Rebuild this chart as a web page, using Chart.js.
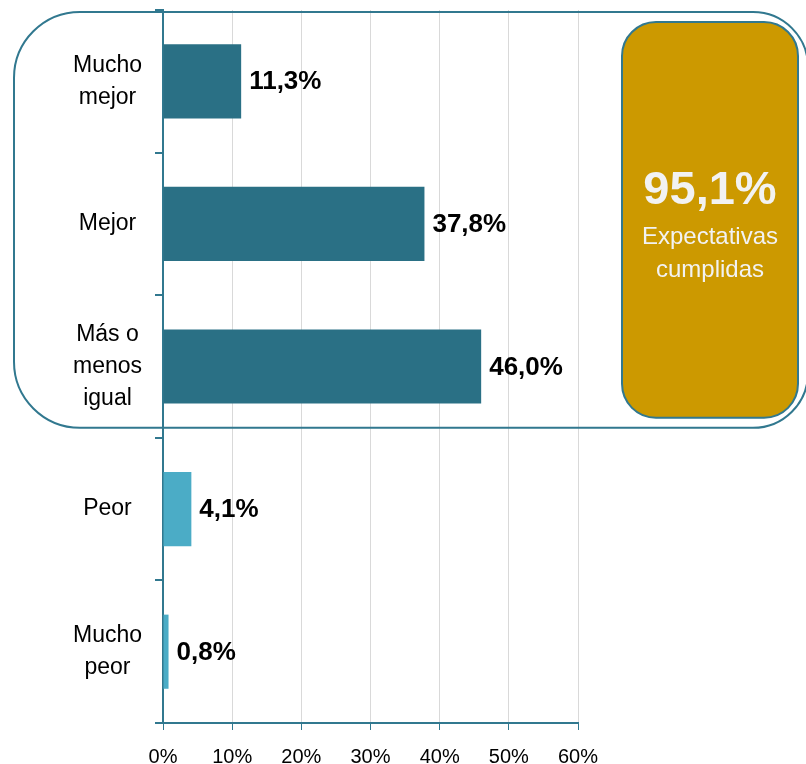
<!DOCTYPE html>
<html>
<head>
<meta charset="utf-8">
<script src="https://cdn.jsdelivr.net/npm/chart.js@4.4.1/dist/chart.umd.min.js"></script>
<style>
    html, body { margin: 0; padding: 0; background: #ffffff; }
    #wrap { width: 806px; height: 764px; position: relative; }
</style>
</head>
<body>
<div id="wrap"><canvas id="chart"></canvas></div>
<script>
// Data
const categories = [
    ['Mucho', 'mejor'],
    ['Mejor'],
    ['Más o', 'menos', 'igual'],
    ['Peor'],
    ['Mucho', 'peor']
];
const percentages = [11.3, 37.8, 46.0, 4.1, 0.8];
const xTickValues = [0, 10, 20, 30, 40, 50, 60];
const summaryValue = '95,1%';
const summaryText = ['Expectativas', 'cumplidas'];

// Styles
const TEAL = '#31788f';
const DARK_BAR = '#2a7085';
const LIGHT_BAR = '#4bacc6';
const GOLD = '#cc9900';
const FONT = '"Liberation Sans", Arial, sans-serif';
const barColors = [DARK_BAR, DARK_BAR, DARK_BAR, LIGHT_BAR, LIGHT_BAR];

function formatPct(v) {
    return v.toFixed(1).replace('.', ',') + '%';
}

function roundRectPath(ctx, x, y, w, h, r) {
    // r = [tl, tr, br, bl]
    ctx.beginPath();
    ctx.moveTo(x + r[0], y);
    ctx.lineTo(x + w - r[1], y);
    ctx.arcTo(x + w, y, x + w, y + r[1], r[1]);
    ctx.lineTo(x + w, y + h - r[2]);
    ctx.arcTo(x + w, y + h, x + w - r[2], y + h, r[2]);
    ctx.lineTo(x + r[3], y + h);
    ctx.arcTo(x, y + h, x, y + h - r[3], r[3]);
    ctx.lineTo(x, y + r[0]);
    ctx.arcTo(x, y, x + r[0], y, r[0]);
    ctx.closePath();
}

// Value labels next to each bar
const valueLabels = {
    id: 'valueLabels',
    afterDatasetsDraw(chart) {
        const ctx = chart.ctx;
        const meta = chart.getDatasetMeta(0);
        ctx.save();
        ctx.font = 'bold 26px ' + FONT;
        ctx.fillStyle = '#000000';
        ctx.textAlign = 'left';
        ctx.textBaseline = 'middle';
        meta.data.forEach((bar, i) => {
            ctx.fillText(formatPct(percentages[i]), bar.x + 8, bar.y + 1);
        });
        ctx.restore();
    }
};

// Rounded outline around the top three bars and the summary box
const highlightBox = {
    id: 'highlightBox',
    afterDraw(chart) {
        const ctx = chart.ctx;
        const area = chart.chartArea;
        const y = chart.scales.y;
        const split = (y.getPixelForValue(2) + y.getPixelForValue(3)) / 2;

        ctx.save();
        // outer outline
        ctx.strokeStyle = TEAL;
        ctx.lineWidth = 2;
        const ox = 14, oy = area.top + 2;
        roundRectPath(ctx, ox, oy, chart.width + 2 - ox, split - 10 - oy, [66, 55, 55, 66]);
        ctx.stroke();

        // gold summary box
        const gx = area.right + 44, gy = area.top + 12;
        const gw = chart.width - 8 - gx, gh = split - 20 - gy;
        roundRectPath(ctx, gx, gy, gw, gh, [34, 34, 34, 34]);
        ctx.fillStyle = GOLD;
        ctx.fill();
        ctx.stroke();

        const cx = gx + gw / 2;
        ctx.fillStyle = '#f2f2f2';
        ctx.textAlign = 'center';
        ctx.textBaseline = 'middle';
        ctx.font = 'bold 47px ' + FONT;
        ctx.fillText(summaryValue, cx, gy + 169);
        ctx.font = '24px ' + FONT;
        ctx.fillText(summaryText[0], cx, gy + 215);
        ctx.fillText(summaryText[1], cx, gy + 248);
        ctx.restore();
    }
};

const canvas = document.getElementById('chart');
canvas.width = 806;
canvas.height = 764;

new Chart(canvas, {
    type: 'bar',
    data: {
        labels: categories,
        datasets: [{
            data: percentages,
            backgroundColor: barColors,
            borderWidth: 0,
            categoryPercentage: 1,
            barPercentage: 0.52
        }]
    },
    options: {
        indexAxis: 'y',
        responsive: false,
        animation: false,
        devicePixelRatio: 1,
        layout: {
            padding: { top: 10, right: 228, left: 0, bottom: 0 }
        },
        scales: {
            x: {
                min: 0,
                max: 60,
                afterBuildTicks: function(scale) {
                    scale.ticks = xTickValues.map(v => ({ value: v }));
                },
                afterFit: function(scale) { scale.height = 41; },
                grid: {
                    color: '#d9d9d9',
                    lineWidth: 1,
                    tickColor: TEAL,
                    tickLength: 7,
                    drawTicks: true
                },
                border: { color: TEAL, width: 2 },
                ticks: {
                    color: '#000000',
                    padding: 15,
                    maxRotation: 0,
                    font: { family: FONT, size: 20 },
                    callback: function(v) { return v + '%'; }
                }
            },
            y: {
                afterFit: function(scale) {
                    scale.width = 163;
                    // labels sit inside their bands, no extra room needed
                    scale.paddingTop = 0;
                    scale.paddingBottom = 0;
                },
                grid: {
                    drawOnChartArea: false,
                    tickColor: TEAL,
                    tickLength: 8,
                    lineWidth: 2
                },
                border: { color: TEAL, width: 2 },
                ticks: {
                    color: '#000000',
                    crossAlign: 'center',
                    padding: 13,
                    font: { family: FONT, size: 23, lineHeight: 1.4 }
                }
            }
        },
        plugins: {
            legend: { display: false },
            tooltip: { enabled: false }
        }
    },
    plugins: [valueLabels, highlightBox]
});
</script>
</body>
</html>
